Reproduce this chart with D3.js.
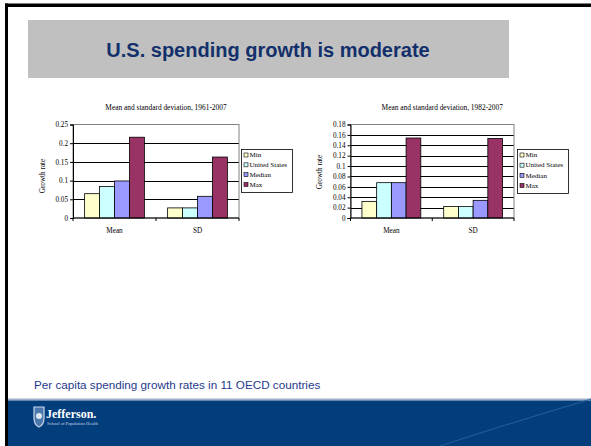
<!DOCTYPE html>
<html>
<head>
<meta charset="utf-8">
<script src="https://cdn.jsdelivr.net/npm/d3@7"></script>
<style>
  body { margin: 0; background: #fff; }
  svg text { font-family: "Liberation Serif", "Times New Roman", serif; }
</style>
</head>
<body>
<div id="slide"></div>
<script>
// Slide texts
const slideTitle = "U.S. spending growth is moderate";
const slideNote = "Per capita spending growth rates in 11 OECD countries";

// Shared chart data
const categories = ["Mean", "SD"];
const seriesNames = ["Min", "United States", "Median", "Max"];
const seriesColors = ["#ffffcc", "#ccffff", "#9999ff", "#993366"];

// 1961-2007 values (Min, United States, Median, Max)
const mean1961 = [0.065, 0.084, 0.099, 0.216];
const sd1961 = [0.027, 0.027, 0.058, 0.163];
const ticks1961 = [0, 0.05, 0.1, 0.15, 0.2, 0.25];

// 1982-2007 values
const mean1982 = [0.032, 0.068, 0.068, 0.154];
const sd1982 = [0.022, 0.022, 0.034, 0.153];
const ticks1982 = [0, 0.02, 0.04, 0.06, 0.08, 0.1, 0.12, 0.14, 0.16, 0.18];

const W = 591, H = 446;

const svg = d3.select("#slide").append("svg")
  .attr("width", W)
  .attr("height", H);

drawFrame();
drawChart({
  title: "Mean and standard deviation, 1961-2007",
  values: [mean1961, sd1961],
  ticks: ticks1961,
  plot: { x0: 73, x1: 239, y0: 124.5, y1: 218 },
  labelX: 45,
  labelY: 176,
  legend: { x: 241.5, y: 149.5, w: 51, h: 43 }
});
drawChart({
  title: "Mean and standard deviation, 1982-2007",
  values: [mean1982, sd1982],
  ticks: ticks1982,
  plot: { x0: 350.5, x1: 514, y0: 124.5, y1: 218 },
  labelX: 322,
  labelY: 172,
  legend: { x: 517.5, y: 149.5, w: 51, h: 44 }
});

// ---------------- Function definitions ---------------- //

/*
 * Slide background: border, title box, footer band and logo.
 */
function drawFrame() {
  // black frame on top and left
  svg.append("rect")
    .attr("x", 5).attr("y", 3.5)
    .attr("width", W).attr("height", 3.5)
    .attr("fill", "#000");
  svg.append("rect")
    .attr("x", 5).attr("y", 3.5)
    .attr("width", 3).attr("height", H)
    .attr("fill", "#000");

  // gray title box
  svg.append("rect")
    .attr("x", 28).attr("y", 20)
    .attr("width", 481).attr("height", 58)
    .attr("fill", "#c0c0c0");
  svg.append("text")
    .attr("x", 268).attr("y", 57)
    .attr("text-anchor", "middle")
    .style("font-family", "Liberation Sans, Arial, sans-serif")
    .style("font-size", "20px")
    .style("font-weight", "bold")
    .attr("fill", "#13306b")
    .text(slideTitle);

  // note above footer
  svg.append("text")
    .attr("x", 34).attr("y", 389)
    .style("font-family", "Liberation Sans, Arial, sans-serif")
    .style("font-size", "11.7px")
    .attr("fill", "#1f3a8c")
    .text(slideNote);

  // footer band
  svg.append("rect")
    .attr("x", 8).attr("y", 398.5)
    .attr("width", W).attr("height", 2)
    .attr("fill", "#9fb0c8");
  svg.append("rect")
    .attr("x", 8).attr("y", 400.5)
    .attr("width", W).attr("height", H - 400.5)
    .attr("fill", "#023d7c");
  svg.append("path")
    .attr("d", "M440,446 Q520,420 591,399")
    .attr("fill", "none")
    .attr("stroke", "#2c5f9c")
    .attr("stroke-width", 1.2)
    .attr("opacity", 0.8);

  // Jefferson logo
  const logo = svg.append("g").attr("transform", "translate(33,406)");
  logo.append("path")
    .attr("d", "M1,1 L11,1 L11,12 Q11,19 6,21 Q1,19 1,12 Z")
    .attr("fill", "#4a78ad")
    .attr("stroke", "#c8d8ea")
    .attr("stroke-width", 1.2);
  logo.append("circle")
    .attr("cx", 6).attr("cy", 10).attr("r", 3)
    .attr("fill", "#dfe8f2");
  logo.append("text")
    .attr("x", 13).attr("y", 12)
    .style("font-size", "12px")
    .style("font-weight", "bold")
    .attr("fill", "#fff")
    .text("Jefferson.");
  logo.append("text")
    .attr("x", 14).attr("y", 19)
    .style("font-size", "4.5px")
    .attr("fill", "#c8d4e4")
    .text("School of Population Health");
}

/*
 * Draw one Excel-style clustered bar chart with legend.
 */
function drawChart(cfg) {
  const p = cfg.plot;
  const g = svg.append("g");

  const x = d3.scaleBand()
    .domain(categories)
    .range([p.x0, p.x1]);

  const bandPad = 0.14;
  const x1 = d3.scaleBand()
    .domain(seriesNames)
    .range([x.bandwidth() * bandPad, x.bandwidth() * (1 - bandPad)]);

  const y = d3.scaleLinear()
    .domain([0, d3.max(cfg.ticks)])
    .range([p.y1, p.y0]);

  // chart title
  g.append("text")
    .attr("x", (p.x0 + p.x1) / 2 + 10)
    .attr("y", 110)
    .attr("text-anchor", "middle")
    .style("font-size", "7.4px")
    .text(cfg.title);

  // horizontal gridlines
  g.selectAll("line.grid")
    .data(cfg.ticks.slice(1, -1))
    .enter()
    .append("line")
    .attr("class", "grid")
    .attr("x1", p.x0).attr("x2", p.x1)
    .attr("y1", d => Math.round(y(d)) + 0.5)
    .attr("y2", d => Math.round(y(d)) + 0.5)
    .attr("stroke", "#000")
    .attr("stroke-width", 1);

  // plot area border
  g.append("rect")
    .attr("x", p.x0).attr("y", p.y0)
    .attr("width", p.x1 - p.x0).attr("height", p.y1 - p.y0)
    .attr("fill", "none")
    .attr("stroke", "#808080")
    .attr("stroke-width", 1);

  // bars
  categories.forEach((cat, ci) => {
    g.selectAll("rect.bar-" + ci)
      .data(cfg.values[ci])
      .enter()
      .append("rect")
      .attr("x", (d, i) => x(cat) + x1(seriesNames[i]))
      .attr("y", d => y(d))
      .attr("width", x1.bandwidth())
      .attr("height", d => p.y1 - y(d))
      .attr("fill", (d, i) => seriesColors[i])
      .attr("stroke", "#000")
      .attr("stroke-width", 0.8);
  });

  // y axis
  const yAxis = d3.axisLeft(y)
    .tickValues(cfg.ticks)
    .tickSize(3)
    .tickPadding(2)
    .tickFormat(d => String(+d.toFixed(2)));
  const ya = g.append("g")
    .attr("transform", "translate(" + p.x0 + ",0)")
    .call(yAxis);
  ya.select(".domain").attr("stroke", "#000");
  ya.selectAll("text")
    .style("font-family", "Liberation Serif, serif")
    .style("font-size", "7.2px");

  // x axis with ticks between categories
  const xa = g.append("g")
    .attr("transform", "translate(0," + p.y1 + ")");
  xa.append("line")
    .attr("x1", p.x0).attr("x2", p.x1)
    .attr("stroke", "#000");
  xa.selectAll("line.tick")
    .data([p.x0, x(categories[1]), p.x1])
    .enter()
    .append("line")
    .attr("x1", d => d).attr("x2", d => d)
    .attr("y1", 0).attr("y2", 3)
    .attr("stroke", "#000");
  xa.selectAll("text")
    .data(categories)
    .enter()
    .append("text")
    .attr("x", d => x(d) + x.bandwidth() / 2)
    .attr("y", 15)
    .attr("text-anchor", "middle")
    .style("font-size", "7.2px")
    .text(d => d);

  // y axis title
  g.append("text")
    .attr("transform", "translate(" + cfg.labelX + "," + cfg.labelY + ") rotate(-90)")
    .attr("text-anchor", "middle")
    .style("font-size", "7.2px")
    .text("Growth rate");

  // legend
  const l = cfg.legend;
  const lg = g.append("g")
    .attr("transform", "translate(" + l.x + "," + l.y + ")");
  lg.append("rect")
    .attr("width", l.w).attr("height", l.h)
    .attr("fill", "#fff")
    .attr("stroke", "#000")
    .attr("stroke-width", 0.8);
  const ly = d3.scalePoint()
    .domain(seriesNames)
    .range([5.5, l.h - 8]);
  lg.selectAll("rect.sw")
    .data(seriesNames)
    .enter()
    .append("rect")
    .attr("class", "sw")
    .attr("x", 2.5)
    .attr("y", d => ly(d) - 2)
    .attr("width", 4).attr("height", 4)
    .attr("fill", (d, i) => seriesColors[i])
    .attr("stroke", "#000")
    .attr("stroke-width", 0.6);
  lg.selectAll("text")
    .data(seriesNames)
    .enter()
    .append("text")
    .attr("x", 8)
    .attr("y", d => ly(d) + 2.3)
    .style("font-size", "7px")
    .text(d => d);
}
</script>
</body>
</html>
